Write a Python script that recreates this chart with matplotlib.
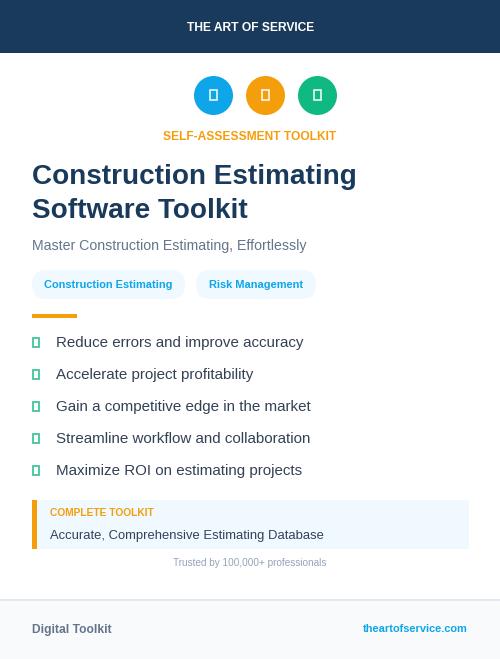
import matplotlib
matplotlib.use('Agg')
import matplotlib.pyplot as plt
from matplotlib.patches import Rectangle, Circle, FancyBboxPatch

plt.rcParams['font.family'] = ['Liberation Sans', 'DejaVu Sans']

NAVY = '#1a3a5c'
BLUE = '#0ea5e9'
ORANGE = '#f59e0b'
GREEN = '#10b981'
PX = 0.72  # pixels to points at dpi 100

# conteudo do cartao
header = 'THE ART OF SERVICE'
kicker = 'SELF-ASSESSMENT TOOLKIT'
title_lines = ['Construction Estimating', 'Software Toolkit']
subtitle = 'Master Construction Estimating, Effortlessly'
tags = ['Construction Estimating', 'Risk Management']
bullets = ['Reduce errors and improve accuracy',
           'Accelerate project profitability',
           'Gain a competitive edge in the market',
           'Streamline workflow and collaboration',
           'Maximize ROI on estimating projects']
box_label = 'COMPLETE TOOLKIT'
box_text = 'Accurate, Comprehensive Estimating Database'
trusted = 'Trusted by 100,000+ professionals'
footer_left = 'Digital Toolkit'
footer_right = 'theartofservice.com'
icon_colors = [BLUE, ORANGE, GREEN]


def text(ax, x, y, s, size, color, weight='normal', ha='left'):
    # y e a linha de base do texto
    ax.text(x, y, s, fontsize=size * PX, color=color, fontweight=weight,
            ha=ha, va='baseline')


def tofu(ax, cx, cy, w, h, color, alpha=1.0):
    # glifo ausente: retangulo vazado
    ax.add_patch(Rectangle((cx - w / 2, cy - h / 2), w, h, fill=False,
                           edgecolor=color, linewidth=1.8 * PX, alpha=alpha))


fig = plt.figure(figsize=(5, 6.59), dpi=100)
ax = fig.add_axes([0, 0, 1, 1])
ax.set_xlim(0, 500)
ax.set_ylim(659, 0)
ax.axis('off')

# faixa do topo
ax.add_patch(Rectangle((0, 0), 500, 53, color=NAVY, lw=0))
text(ax, 250.5, 31, header, 12, 'white', 'bold', 'center')

# icones
for cx, c in zip([213.5, 265.5, 317.5], icon_colors):
    ax.add_patch(Circle((cx, 95.5), 19.5, color=c, lw=0))
    tofu(ax, cx - 0.3, 95, 7, 10.5, 'white', 0.85)

text(ax, 249.5, 140, kicker, 12, ORANGE, 'bold', 'center')

# titulo
text(ax, 32, 184.5, title_lines[0], 27.9, NAVY, 'bold')
text(ax, 32, 218.5, title_lines[1], 27.9, NAVY, 'bold')
text(ax, 32, 250, subtitle, 14.1, '#64748b')

# etiquetas
for (x0, x1), tag in zip([(32, 185), (196, 316)], tags):
    ax.add_patch(FancyBboxPatch((x0 + 14.5, 270 + 14.5), x1 - x0 - 29, 0,
                                boxstyle='round,pad=14.5,rounding_size=14.5',
                                fc='#f0f9ff', ec='none'))
    text(ax, (x0 + x1) / 2, 287.5, tag, 11, BLUE, 'bold', 'center')

# divisor
ax.add_patch(Rectangle((32, 314), 45, 4, color=ORANGE, lw=0))

# lista
for y, b in zip([347, 379, 411, 443, 475], bullets):
    tofu(ax, 36, y - 4.5, 6.5, 9.5, GREEN, 0.8)
    text(ax, 56, y, b, 15.1, '#334155')

# caixa de destaque
ax.add_patch(Rectangle((32, 500), 437, 49, color='#f0f9ff', lw=0))
ax.add_patch(Rectangle((32, 500), 5, 49, color=ORANGE, lw=0))
text(ax, 50, 516, box_label, 10.2, ORANGE, 'bold')
text(ax, 50, 539, box_text, 13, '#334155')
text(ax, 250, 566, trusted, 10, '#94a3b8', 'normal', 'center')

# rodape
ax.add_patch(Rectangle((0, 600), 500, 59, color='#f8fafc', lw=0))
ax.add_patch(Rectangle((0, 599), 500, 2, color='#e2e8f0', lw=0))
text(ax, 32, 633, footer_left, 12, '#64748b', 'bold')
text(ax, 468, 632, footer_right, 11, BLUE, 'bold', 'right')

fig.savefig('out.png', dpi=100)
plt.close(fig)
